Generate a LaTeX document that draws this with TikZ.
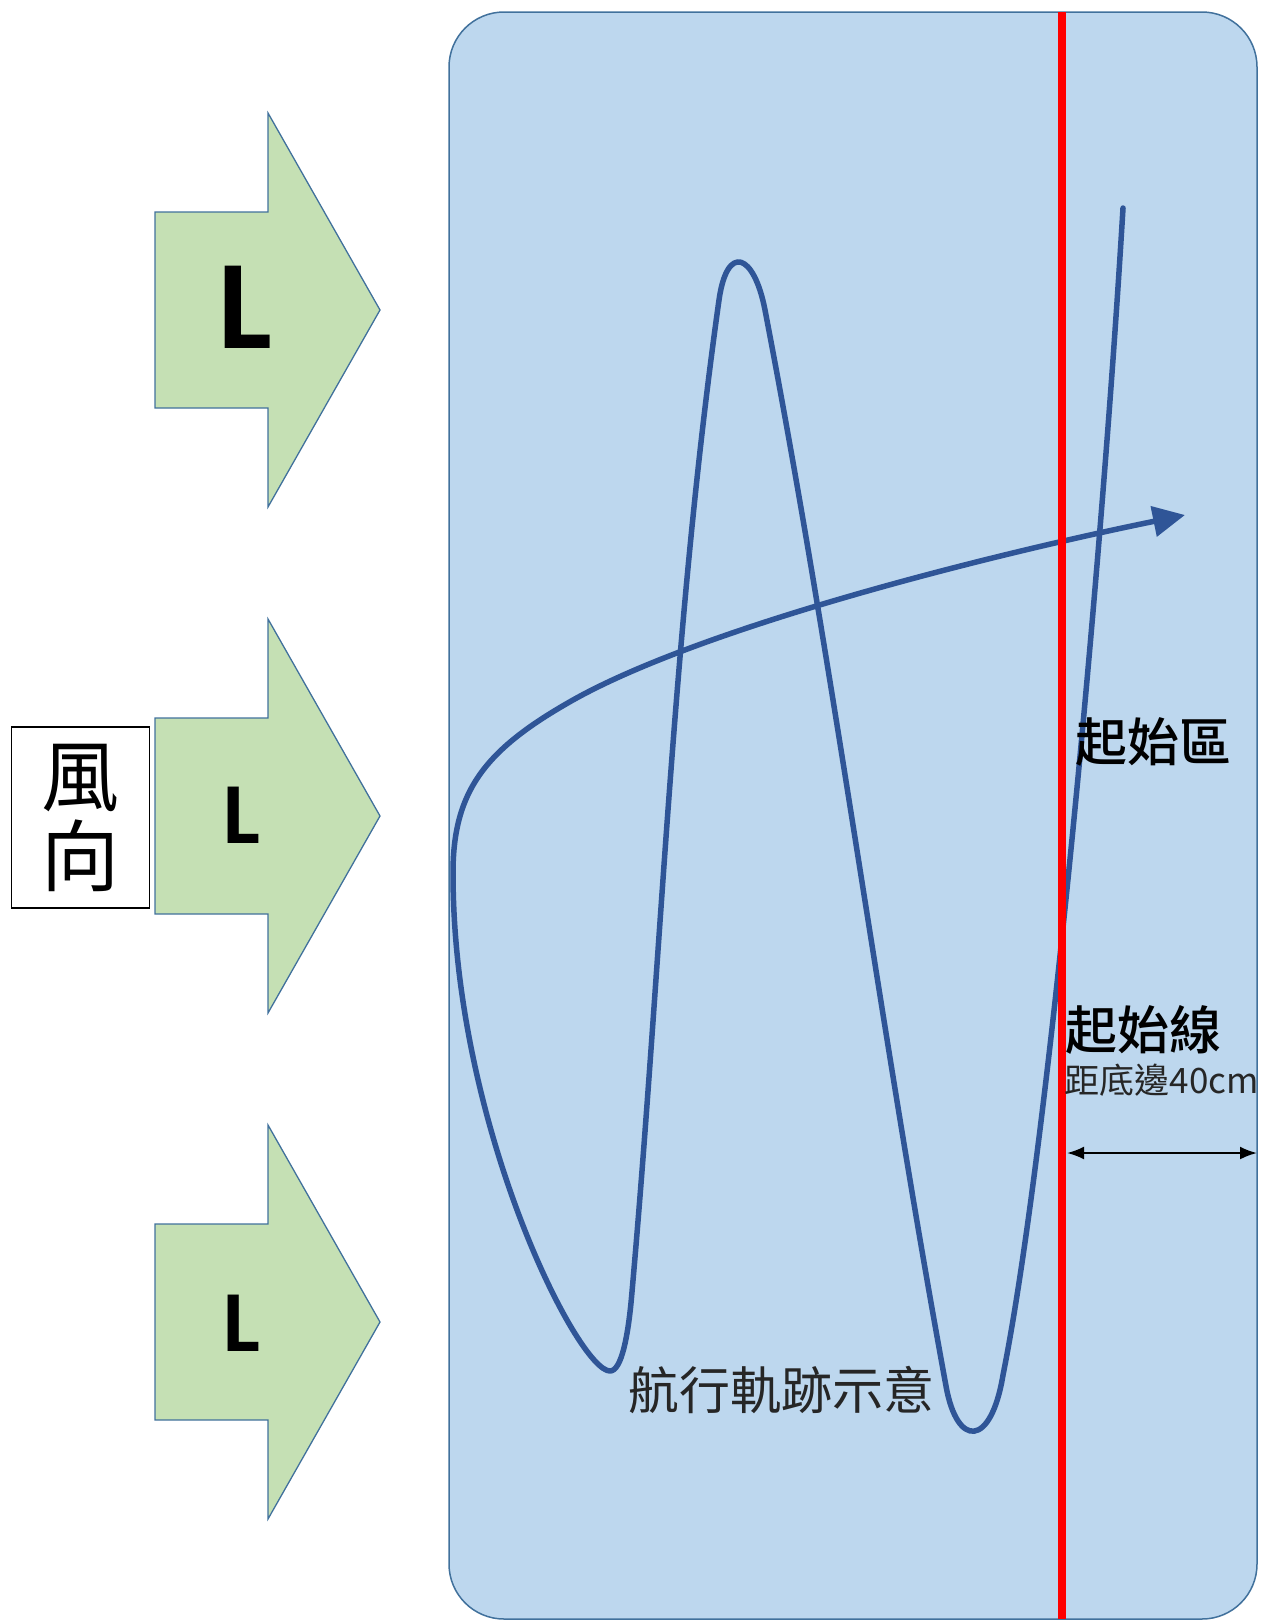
\documentclass[tikz,border=0pt]{standalone}
\usepackage{fontspec}
\setmainfont{Noto Sans CJK TC}
\newfontfamily\medcjk{Noto Sans CJK TC Medium}
\newfontfamily\lfont{Carlito}
\usetikzlibrary{arrows.meta}
\definecolor{field}{HTML}{BDD7EE}
\definecolor{fieldborder}{HTML}{41719C}
\definecolor{track}{HTML}{2F5597}
\definecolor{windfill}{HTML}{C5E0B4}
\definecolor{textgray}{HTML}{262626}
\tikzset{
  windarrow/.style={fill=windfill, draw=fieldborder, line width=1.3pt, line join=miter},
  bigL/.style={inner sep=0pt, font=\lfont\fontsize{127}{127}\selectfont\bfseries},
  smallL/.style={inner sep=0pt, font=\lfont\fontsize{87}{87}\selectfont\bfseries},
  boldlabel/.style={inner sep=0pt, font=\medcjk\fontsize{52}{56}\selectfont, text=black},
  plainlabel/.style={inner sep=0pt, font=\fontsize{51}{56}\selectfont, text=textgray},
  tracklinestyle/.style={draw=track, line width=5.5pt, line cap=round, line join=round},
}
\begin{document}
\begin{tikzpicture}[x=1pt,y=-1pt]
\useasboundingbox (0,0) rectangle (1271,1622);
% field
\draw[fill=field, draw=fieldborder, line width=1.5pt, rounded corners=55pt] (449,12) rectangle (1257,1619);
% wind arrows
\foreach \c in {310,816,1322}{
  \draw[windarrow] (155,\c-98) -- (268,\c-98) -- (268,\c-197) -- (380,\c) -- (268,\c+197) -- (268,\c+98) -- (155,\c+98) -- cycle;
}
\node[bigL] (L1) at (245,307) {L};
\node[smallL] (L2) at (242,815) {L};
\node[smallL] (L3) at (242,1323) {L};
% wind label box
\node[draw=black, line width=1.8pt, fill=white, minimum width=138pt, minimum height=181pt, inner sep=0pt,
      align=center, font=\fontsize{78}{80}\selectfont] (wind) at (80.5,817.5) {風\\向};
% trajectory
\coordinate (t0) at (1123,208);
\coordinate (t1) at (1003,1375);
\coordinate (t2) at (946,1386);
\coordinate (t3) at (765,310);
\coordinate (t4) at (719,300);
\coordinate (t5) at (631,1303);
\coordinate (t6) at (610,1371);
\coordinate (t7) at (453,873);
\coordinate (t8) at (573,700);
\coordinate (t9) at (1185,515);
\draw[tracklinestyle, -{Triangle[length=32pt,width=30pt]}]
  (t0) .. controls (1102,560) and (1048,1150) .. (t1)
       .. controls (991,1448) and (957,1448) .. (t2)
       .. controls (880,1027) and (834,669) .. (t3)
       .. controls (754,253) and (727,243) .. (t4)
       .. controls (672,634) and (661,969) .. (t5)
       .. controls (628,1333) and (622,1371) .. (t6)
       .. controls (578,1371) and (453,1125) .. (t7)
       .. controls (453,790) and (486,749) .. (t8)
       .. controls (703,627) and (989,555) .. (t9);
% start line
\coordinate (redtop) at (1062,12);
\coordinate (redbot) at (1062,1619);
\draw[red, line width=8pt] (redtop) -- (redbot);
% distance arrow
\coordinate (da) at (1067,1153);
\coordinate (db) at (1257,1153);
\draw[line width=2.2pt, {Latex[length=17pt,width=13pt]}-{Latex[length=17pt,width=13pt]}] (da) -- (db);
% labels
\node[boldlabel] (zone) at (1153,742) {起始區};
\node[boldlabel] (line) at (1143,1030) {起始線};
\node[inner sep=0pt, font=\fontsize{35}{38}\selectfont, text=textgray] (dist) at (1162,1080) {距底邊40cm};
\node[plainlabel] (trk) at (781,1390) {航行軌跡示意};
\end{tikzpicture}
\end{document}
